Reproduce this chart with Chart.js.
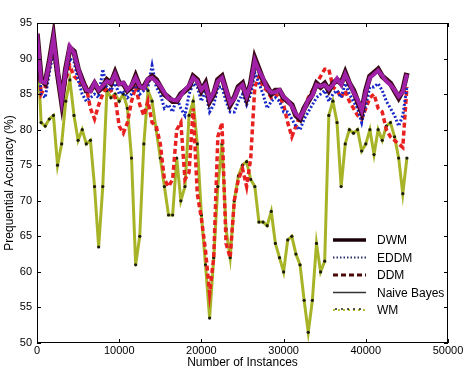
<!DOCTYPE html>
<html>
<head>
<meta charset="utf-8">
<script src="https://cdn.jsdelivr.net/npm/chart.js@4.4.1/dist/chart.umd.min.js"></script>
<style>
  html, body { margin: 0; padding: 0; background: #fff; }
</style>
</head>
<body>
<canvas id="myChart" width="474" height="375"></canvas>
<script>
// number of instances seen (x positions of the samples)
const instances = [
    0, 500, 1000, 1500, 2000, 2500, 3000, 3500, 4000, 4500,
    5000, 5500, 6000, 6500, 7000, 7500, 8000, 8500, 9000, 9500,
    10000, 10500, 11000, 11500, 12000, 12500, 13000, 13500, 14000, 14500,
    15000, 15500, 16000, 16500, 17000, 17500, 18000, 18500, 19000, 19500,
    20000, 20500, 21000, 21500, 22000, 22500, 23000, 23500, 24000, 24500,
    25000, 25500, 26000, 26500, 27000, 27500, 28000, 28500, 29000, 29500,
    30000, 30500, 31000, 31500, 32000, 32500, 33000, 33500, 34000, 34500,
    35000, 35500, 36000, 36500, 37000, 37500, 38000, 38500, 39000, 39500,
    40000, 40500, 41000, 41500, 42000, 42500, 43000, 43500, 44000, 44500,
    45000
];

const dwm = [
    93.5, 87, 86.5, 89.5, 93, 88, 84, 88.5, 91.5, 91,
    88.5, 87, 85.5, 85.5, 86.5, 85.5, 86, 87, 86.5, 88,
    86.5, 86.5, 85.5, 86, 87.5, 86, 86, 87, 87.5, 87,
    86, 85, 84.5, 84, 84, 85, 85.5, 86, 87.5, 87,
    85.5, 86.5, 84, 85, 87, 87.5, 85.5, 83.5, 84.5, 86,
    86.5, 84.5, 86.5, 90, 88.5, 87, 86, 85, 85.5, 85.5,
    84.5, 84, 83.5, 82, 81.5, 83, 84, 85, 86.5, 86,
    86.5, 85.5, 86.5, 87, 86.5, 88, 86.5, 85.5, 84, 82.5,
    85.5, 87.5, 88, 88.5, 87.5, 87, 86.5, 85.5, 84.5, 85.5,
    88
];

const eddm = [
    93, 85, 84.5, 88, 91, 87, 84, 87.5, 90, 89.5,
    87, 85, 84, 84.5, 85, 84.5, 88.5, 86, 85.5, 86.5,
    85, 85.5, 84.5, 85, 86.5, 85, 85.5, 86, 89, 86,
    85, 83, 83.5, 82.5, 84.5, 83, 82, 85, 86.5, 86,
    84, 85.5, 82.5, 83.5, 86, 86, 84, 82.5, 82.5, 84,
    85, 83.5, 85, 88, 86.5, 85, 83, 84, 84.5, 84,
    82.5, 82.5, 81.5, 80.5, 80, 81.5, 82.5, 83.5, 84.5, 85,
    85.5, 84, 85, 85.5, 84.5, 86.5, 85, 84, 83, 81,
    83.5, 86, 86, 86.5, 85.5, 84, 83, 82, 80.5, 82,
    86
];

const ddm = [
    93, 85, 86, 89.5, 91, 87.5, 84, 87, 89, 87.5,
    87, 86, 86, 83, 81.5, 83.5, 85, 86, 85.5, 84.5,
    80.5, 79.5, 81, 84, 86, 83.5, 82, 84, 81, 80.5,
    78, 73, 72, 73, 80, 81, 73, 74, 83, 71,
    67.5, 63, 57, 62, 79, 81, 64, 62, 70, 73,
    74.5, 72, 76, 86, 87.5, 86, 85.5, 84.5, 85, 84.5,
    83.5, 81, 79, 80.5, 82, 83, 84.5, 85.5, 86.5, 87.5,
    88.5, 88.5, 86, 85.5, 84.5, 85.5, 84, 83, 82, 81.5,
    83, 84.5, 85, 83, 82.5, 80, 79, 78.5, 78, 77.5,
    86
];

const naiveBayes = [
    93.5, 86.8, 86.6, 89.3, 92.8, 88.2, 84.2, 88.3, 91.7, 90.8,
    88.6, 86.8, 85.6, 85.4, 86.6, 85.6, 86.2, 86.8, 86.6, 87.8,
    86.4, 86.6, 85.6, 86.2, 87.3, 86.1, 85.8, 87.1, 87.3, 86.8,
    86.1, 85.2, 84.4, 84.2, 84.1, 84.8, 85.6, 86.2, 87.3, 86.8,
    85.6, 86.3, 84.2, 85.2, 86.8, 87.3, 85.6, 83.7, 84.4, 85.8,
    86.3, 84.7, 86.3, 89.7, 88.3, 87.2, 85.8, 85.2, 85.3, 85.6,
    84.6, 84.1, 83.3, 82.2, 81.7, 82.8, 84.2, 84.8, 86.3, 86.1,
    86.3, 85.7, 86.3, 87.2, 86.3, 87.8, 86.6, 85.3, 84.2, 82.7,
    85.3, 87.3, 87.8, 88.3, 87.6, 86.8, 86.3, 85.6, 84.7, 85.3,
    87.8
];

const wm = [
    93, 81, 80.5, 81.5, 82, 75, 78, 84, 87, 82,
    78.5, 80, 78, 78.5, 72, 63.5, 72, 85.5, 84.5, 85,
    84, 85, 83, 76, 61, 65, 78, 85.5, 84, 80,
    76, 72, 68, 68, 76, 70, 72, 82, 84, 78,
    68, 61, 53.5, 62, 72, 78, 66, 62, 70, 73.5,
    75, 75.5, 73, 72, 67, 67, 66.5, 68.5, 64, 62,
    60, 64.5, 65, 62.5, 61, 56, 51.5, 56, 64, 60,
    61.5, 82, 84, 81, 72, 78, 80, 79.5, 80, 77,
    78, 80, 76.5, 80, 78.5, 80.5, 81, 79, 76, 71,
    76
];

const xTicks = [0, 10000, 20000, 30000, 40000, 50000];
const yTicks = [50, 55, 60, 65, 70, 75, 80, 85, 90, 95];

function pts(vals) {
    return vals.map(function (v, i) { return { x: instances[i], y: v }; });
}

const legendItems = [
    { label: 'DWM', color: '#1a0008', width: 3.5, dash: [] },
    { label: 'EDDM', color: '#28306a', width: 2, dash: [1.5, 2] },
    { label: 'DDM', color: '#4a0a0a', width: 3, dash: [5, 3] },
    { label: 'Naive Bayes', color: '#333', width: 1.5, dash: [] },
    { label: 'WM', color: '#b8c030', width: 2, dash: [2, 3], dots: true }
];

// frame with matplotlib style inward ticks + legend inside the plot
const framePlugin = {
    id: 'frame',
    afterDraw(chart) {
        const c = chart.ctx;
        const a = chart.chartArea;
        const xs = chart.scales.x, ys = chart.scales.y;
        c.save();
        c.strokeStyle = '#000';
        c.lineWidth = 1;
        c.strokeRect(a.left + 0.5, a.top + 0.5, a.right - a.left - 1, a.bottom - a.top - 1);
        c.beginPath();
        xTicks.forEach(function (t) {
            const px = Math.round(xs.getPixelForValue(t)) + 0.5;
            c.moveTo(px, a.top); c.lineTo(px, a.top + 4);
            c.moveTo(px, a.bottom); c.lineTo(px, a.bottom - 4);
        });
        yTicks.forEach(function (t) {
            const py = Math.round(ys.getPixelForValue(t)) + 0.5;
            c.moveTo(a.left, py); c.lineTo(a.left + 4, py);
            c.moveTo(a.right, py); c.lineTo(a.right - 4, py);
        });
        c.stroke();

        // legend
        c.font = '12px "Liberation Sans", Arial, sans-serif';
        c.textBaseline = 'middle';
        legendItems.forEach(function (it, i) {
            const y = 240 + i * 17.5;
            c.beginPath();
            c.setLineDash(it.dash);
            c.strokeStyle = it.color;
            c.lineWidth = it.width;
            c.moveTo(333, y); c.lineTo(366, y);
            c.stroke();
            c.setLineDash([]);
            if (it.dots) {
                c.fillStyle = '#222';
                [336, 342, 348, 354, 360].forEach(function (dx) {
                    c.beginPath(); c.arc(dx, y - 1, 1, 0, Math.PI * 2); c.fill();
                });
            }
            c.fillStyle = '#000';
            c.fillText(it.label, 377, y + 1);
        });
        c.restore();
    }
};

const ctx = document.getElementById('myChart');

const myChart = new Chart(ctx, {
    type: 'line',
    data: {
        datasets: [
            {
                label: 'Naive Bayes',
                data: pts(naiveBayes),
                borderColor: 'rgba(165, 35, 175, 0.95)',
                borderWidth: 4,
                pointRadius: 0,
                order: 1
            },
            {
                label: 'DWM',
                data: pts(dwm),
                borderColor: '#3a0818',
                borderWidth: 5.5,
                pointRadius: 0,
                order: 2
            },
            {
                label: 'EDDM',
                data: pts(eddm),
                borderColor: '#1828c8',
                borderWidth: 3,
                borderDash: [2, 2],
                pointRadius: 0,
                order: 3
            },
            {
                label: 'DDM',
                data: pts(ddm),
                borderColor: '#e82020',
                borderWidth: 3.5,
                borderDash: [5, 3],
                pointRadius: 0,
                order: 4
            },
            {
                label: 'WM',
                data: pts(wm),
                borderColor: '#a8b428',
                borderWidth: 3,
                pointRadius: 1.6,
                pointBackgroundColor: '#1c1c0c',
                pointBorderWidth: 0,
                order: 5
            }
        ]
    },
    options: {
        responsive: false,
        animation: false,
        layout: {
            padding: { left: 2, right: 26, top: 23, bottom: 5 }
        },
        scales: {
            x: {
                type: 'linear',
                min: 0,
                max: 50000,
                afterBuildTicks: function (s) { s.ticks = xTicks.map(function (v) { return { value: v }; }); },
                afterFit: function (s) { s.height = 27; },
                grid: { display: false, drawTicks: false },
                border: { display: false },
                ticks: {
                    color: '#000',
                    padding: 1,
                    maxRotation: 0,
                    font: { family: '"Liberation Sans", Arial, sans-serif', size: 11 },
                    callback: function (v) { return String(v); }
                },
                title: {
                    display: true,
                    text: 'Number of Instances',
                    color: '#000',
                    padding: { top: 0, bottom: 0 },
                    font: { family: '"Liberation Sans", Arial, sans-serif', size: 12 }
                }
            },
            y: {
                min: 50,
                max: 95,
                afterBuildTicks: function (s) { s.ticks = yTicks.map(function (v) { return { value: v }; }); },
                afterFit: function (s) { s.width = 35; },
                grid: { display: false, drawTicks: false },
                border: { display: false },
                ticks: {
                    color: '#000',
                    padding: 5,
                    font: { family: '"Liberation Sans", Arial, sans-serif', size: 11 }
                },
                title: {
                    display: true,
                    text: 'Prequential Accuracy (%)',
                    color: '#000',
                    padding: { top: 0, bottom: 2 },
                    font: { family: '"Liberation Sans", Arial, sans-serif', size: 12 }
                }
            }
        },
        plugins: {
            legend: { display: false },
            tooltip: { enabled: false }
        }
    },
    plugins: [framePlugin]
});
</script>
</body>
</html>
